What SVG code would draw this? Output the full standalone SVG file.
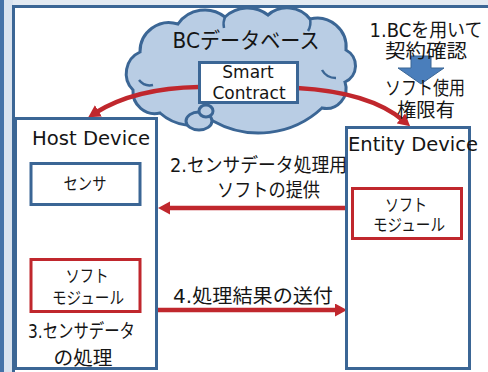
<svg xmlns="http://www.w3.org/2000/svg" width="488" height="372" viewBox="0 0 488 372">
<defs>
<style>
.t{font-family:"DejaVu Sans","Noto Sans CJK JP",sans-serif;fill:#151515}
.bx{fill:#fff;stroke:#3b6695;stroke-width:3}
.rx{fill:#fff;stroke:#c0272d;stroke-width:3}
.ln{fill:none;stroke:#c0272d;stroke-width:4.5;marker-end:url(#ah)}
.cl{fill:#b9cde4;stroke:#3b6695;stroke-width:3}
</style>
<marker id="ah" markerUnits="userSpaceOnUse" markerWidth="14" markerHeight="14" refX="4" refY="6.5" orient="auto">
<path d="M0,0 L12,6.5 L0,13 Z" fill="#c0272d"/>
</marker>
</defs>
<g id="frame">
<rect x="0" y="0" width="488" height="372" fill="#e3eaf2"/>
<rect x="0" y="0" width="4" height="372" fill="#4472a8"/>
<rect x="4" y="0" width="9" height="372" fill="#d9e3ef"/>
<rect x="13.5" y="6.5" width="490" height="380" fill="#fff" stroke="#3b6695" stroke-width="3"/>
</g>
<g id="cloud">
<path class="cl" d="M160,113 A22,22 0 0 1 133,90 A23.6,23.6 0 0 1 140,52 A29,29 0 0 1 178,24 A32.6,32.6 0 0 1 225,17 A33,33 0 0 1 268,15 A29,29 0 0 1 310,19 A29,29 0 0 1 346,50 A17.8,17.8 0 0 1 345,82 A20,20 0 0 1 322,108 A92.7,92.7 0 0 1 213,121 A49,49 0 0 1 160,113 Z"/>
<path d="M139,80 A14,14 0 0 0 153,85 M322,70 A16,16 0 0 0 336,78 M225,17 A18,18 0 0 0 224,28 M310,19 A16,16 0 0 1 308,31" fill="none" stroke="#3b6695" stroke-width="2.5"/>
<ellipse cx="199" cy="121" rx="13" ry="9" class="cl"/>
<ellipse cx="206" cy="111" rx="7" ry="6" class="cl"/>
<text class="t" x="246" y="48" font-size="22" text-anchor="middle" textLength="147" lengthAdjust="spacingAndGlyphs">BCデータベース</text>
</g>
<g id="connectors">
<path class="ln" d="M199,87 Q135,88 95,113"/>
<path class="ln" d="M297,88 Q370,92 404,121"/>
<path class="ln" d="M85,205 L85,250"/>
<path class="ln" d="M346,208 L166,208"/>
<path class="ln" d="M158,310 L339,310"/>
</g>
<g id="smart-contract">
<rect class="bx" x="199.5" y="62.5" width="98" height="40"/>
<text class="t" x="248" y="78" font-size="17" text-anchor="middle">Smart</text>
<text class="t" x="249" y="99" font-size="17" text-anchor="middle">Contract</text>
</g>
<g id="permission">
<polygon points="411,56 431,56 431,68 444,68 421,84 398,68 411,68" fill="#4a7ebb" stroke="#3b6695" stroke-width="1"/>
<text class="t" x="426" y="37" font-size="19" text-anchor="middle" textLength="113" lengthAdjust="spacingAndGlyphs">1.BCを用いて</text>
<text class="t" x="426" y="58" font-size="19" text-anchor="middle" textLength="82" lengthAdjust="spacingAndGlyphs">契約確認</text>
<text class="t" x="425" y="95" font-size="19" text-anchor="middle" textLength="80" lengthAdjust="spacingAndGlyphs">ソフト使用</text>
<text class="t" x="426" y="117" font-size="19" text-anchor="middle" textLength="58" lengthAdjust="spacingAndGlyphs">権限有</text>
</g>
<g id="host-device">
<rect class="bx" x="15.5" y="118.5" width="141" height="250"/>
<text class="t" x="32" y="145" font-size="19" textLength="118" lengthAdjust="spacingAndGlyphs">Host Device</text>
<text class="t" x="28" y="338" font-size="19" textLength="107" lengthAdjust="spacingAndGlyphs">3.センサデータ</text>
<text class="t" x="83" y="365" font-size="19" text-anchor="middle" textLength="59" lengthAdjust="spacingAndGlyphs">の処理</text>
</g>
<g id="sensor">
<rect class="bx" x="31" y="163.5" width="109" height="41"/>
<text class="t" x="85" y="190" font-size="17" text-anchor="middle" textLength="43" lengthAdjust="spacingAndGlyphs">センサ</text>
</g>
<g id="host-soft">
<rect class="rx" x="31" y="259.5" width="109" height="52"/>
<text class="t" x="87" y="282" font-size="17" text-anchor="middle" textLength="43" lengthAdjust="spacingAndGlyphs">ソフト</text>
<text class="t" x="88" y="304" font-size="17" text-anchor="middle" textLength="72" lengthAdjust="spacingAndGlyphs">モジュール</text>
</g>
<g id="entity-device">
<rect class="bx" x="346.5" y="127.5" width="123" height="241"/>
<text class="t" x="348" y="151" font-size="19" textLength="130" lengthAdjust="spacingAndGlyphs">Entity Device</text>
</g>
<g id="entity-soft">
<rect class="rx" x="352.5" y="188.5" width="109" height="50"/>
<text class="t" x="406" y="211" font-size="17" text-anchor="middle" textLength="42" lengthAdjust="spacingAndGlyphs">ソフト</text>
<text class="t" x="409" y="231" font-size="17" text-anchor="middle" textLength="72" lengthAdjust="spacingAndGlyphs">モジュール</text>
</g>
<g id="labels">
<text class="t" x="170" y="172" font-size="19" textLength="177" lengthAdjust="spacingAndGlyphs">2.センサデータ処理用</text>
<text class="t" x="217" y="197" font-size="19" textLength="103" lengthAdjust="spacingAndGlyphs">ソフトの提供</text>
<text class="t" x="173" y="303" font-size="19" textLength="160" lengthAdjust="spacingAndGlyphs">4.処理結果の送付</text>
</g>
</svg>
